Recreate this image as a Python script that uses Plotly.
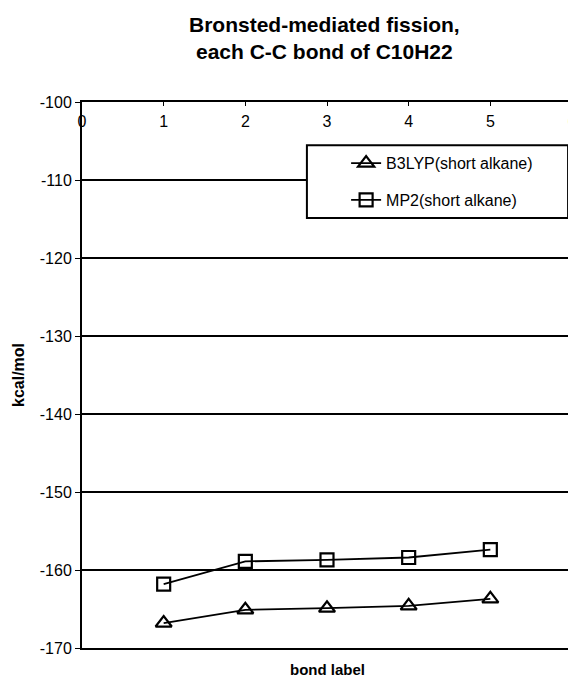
import plotly.graph_objects as go

bond_label = [1, 2, 3, 4, 5]
b3lyp = [-166.8, -165.1, -164.9, -164.6, -163.7]
mp2 = [-161.8, -158.9, -158.7, -158.4, -157.4]
series_names = ["B3LYP(short alkane)", "MP2(short alkane)"]
title_lines = ["Bronsted-mediated fission,", "each C-C bond of C10H22"]
x_title = "bond label"
y_title = "kcal/mol"
y_ticks = [-170, -160, -150, -140, -130, -120, -110, -100]
x_ticks = [0, 1, 2, 3, 4, 5, 6]

fig = go.Figure()
fig.add_trace(go.Scatter(
    x=bond_label, y=b3lyp, name=series_names[0], mode="lines+markers",
    legendgroup="a",
    line=dict(color="black", width=1.8),
    marker=dict(symbol="triangle-up-open", size=14, color="black", line=dict(width=2.2, color="black")),
))
fig.add_trace(go.Scatter(
    x=bond_label, y=mp2, name=series_names[1], mode="lines+markers",
    legendgroup="b",
    line=dict(color="black", width=1.8),
    marker=dict(symbol="square-open", size=13, color="black", line=dict(width=2.2, color="black")),
))

fig.update_layout(
    width=568, height=674,
    paper_bgcolor="white", plot_bgcolor="white",
    margin=dict(l=74, r=4, t=94, b=34),
    font=dict(family="Liberation Sans, Arial, sans-serif", color="black"),
    xaxis=dict(
        range=[0, 6], tickvals=x_ticks, ticktext=[str(v) for v in x_ticks],
        side="top", ticks="inside", ticklen=4, tickwidth=1, tickcolor="black",
        ticklabelstandoff=-33, ticklabeloverflow="allow",
        tickfont=dict(size=16, color="black"),
        showgrid=False, zeroline=False, automargin=False,
        showline=True, linecolor="black", linewidth=2, mirror=True,
    ),
    yaxis=dict(
        range=[-170, -100], tickvals=y_ticks, ticktext=[str(v) for v in y_ticks],
        ticks="outside", ticklen=5, tickwidth=1, tickcolor="black",
        tickfont=dict(size=16, color="black"), automargin=False,
        showgrid=True, gridcolor="black", gridwidth=1.5, zeroline=False,
        showline=True, linecolor="black", linewidth=2, mirror=True,
    ),
    legend=dict(
        x=0.539, y=0.919, xanchor="left", yanchor="top",
        bgcolor="rgba(0,0,0,0)", borderwidth=0,
        font=dict(size=16, color="black"), tracegroupgap=13, traceorder="grouped",
        itemwidth=30,
    ),
)

# legend frame
fig.add_shape(
    type="rect", xref="paper", yref="paper",
    x0=0.459, x1=0.992, y0=0.7875, y1=0.921,
    line=dict(color="black", width=2), fillcolor="white", layer="above",
)

fig.add_annotation(
    text="<b>" + title_lines[0] + "<br>" + title_lines[1] + "</b>",
    xref="paper", yref="paper", x=0.494, y=1 + (94 - 30) / 546,
    showarrow=False, xanchor="center", yanchor="middle",
    font=dict(size=21, color="black"),
)
fig.add_annotation(
    text="<b>" + x_title + "</b>", xref="paper", yref="paper",
    x=0.5, y=-(661 - 640) / 546, showarrow=False, xanchor="center", yanchor="middle",
    font=dict(size=15, color="black"),
)
fig.add_annotation(
    text="<b>" + y_title + "</b>", xref="paper", yref="paper",
    x=-(74 - 10) / 490, y=0.5, showarrow=False, xanchor="center", yanchor="middle",
    textangle=-90, font=dict(size=16, color="black"),
)

fig.write_html("out.html")
